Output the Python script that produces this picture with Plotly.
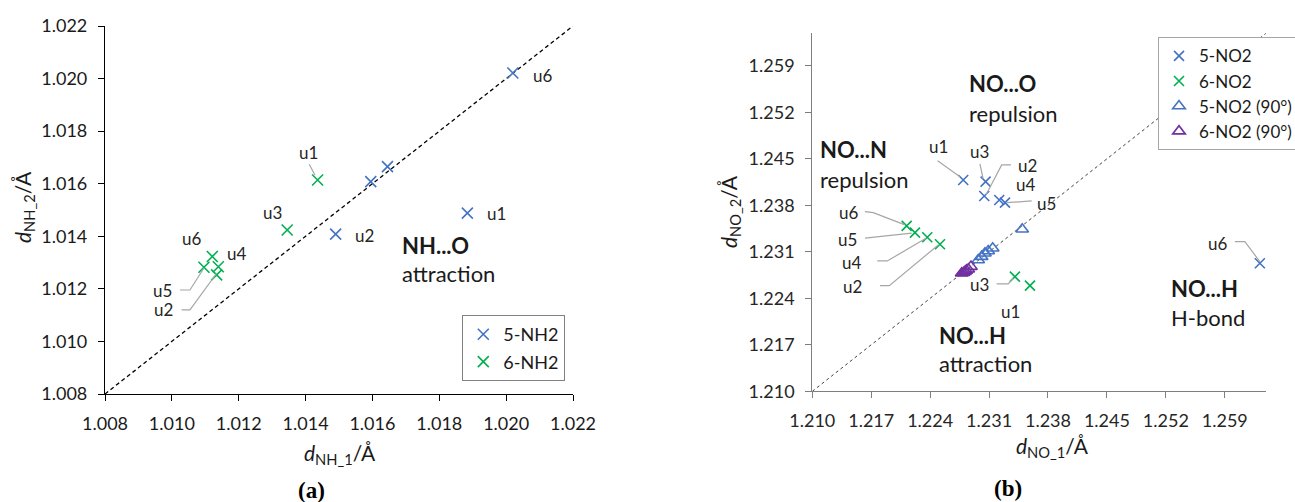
import plotly.graph_objects as go

# ---------------- data ----------------
# panel (a): N-H bond lengths
nh2_5_labels = ["u1", "u2", "", "", "u6"]
nh2_5_x = [1.01884, 1.01490, 1.01595, 1.01645, 1.02020]
nh2_5_y = [1.01488, 1.01408, 1.01608, 1.01665, 1.02021]

nh2_6_labels = ["u1", "u2", "u3", "u4", "u5", "u6"]
nh2_6_x = [1.01436, 1.01134, 1.01345, 1.01121, 1.01096, 1.01139]
nh2_6_y = [1.01614, 1.01253, 1.01424, 1.01323, 1.01282, 1.01284]

# panel (b): N-O bond lengths
no2_5_labels = ["u1", "u2", "u3", "u4", "u5", "u6"]
no2_5_x = [1.22793, 1.23043, 1.23059, 1.23221, 1.23289, 1.26317]
no2_5_y = [1.24182, 1.23941, 1.24157, 1.23881, 1.23840, 1.22928]

no2_6_labels = ["u1", "u2", "u3", "u4", "u5", "u6"]
no2_6_x = [1.23586, 1.22517, 1.23407, 1.22366, 1.22220, 1.22121]
no2_6_y = [1.22590, 1.23214, 1.22726, 1.23319, 1.23389, 1.23490]

no2_5_90_x = [1.23494, 1.23143, 1.23090, 1.23051, 1.23012, 1.22971]
no2_5_90_y = [1.23440, 1.23154, 1.23113, 1.23078, 1.23027, 1.22977]

no2_6_90_x = [1.22774, 1.22795, 1.22814, 1.22830, 1.22853, 1.22885]
no2_6_90_y = [1.22777, 1.22785, 1.22801, 1.22820, 1.22837, 1.22877]

# axes
a_range = [1.008, 1.022]
a_ticks = [1.008, 1.010, 1.012, 1.014, 1.016, 1.018, 1.020, 1.022]
b_range = [1.210, 1.2639]
b_ticks = [1.210, 1.217, 1.224, 1.231, 1.238, 1.245, 1.252, 1.259]

# ---------------- styles / label placement (pixel offsets) ----------------
W, H = 1295, 502
BLUE, GREEN, PURPLE = "#4472C4", "#00B050", "#7030A0"
FONT = "Lato"
LEADER = "#A6A6A6"

# (dx, dy) screen-pixel offset of label centre from point; leader = list of screen offsets
A5_POS = {
    "u1": ((29, 0), None),
    "u2": ((29, 1), None),
    "u6": ((30, 2), None),
}
A6_POS = {
    "u1": ((-9, -28), [(-8.4, -15.7), (-2.7, -5)]),
    "u3": ((-15, -17), None),
    "u4": ((24, -3), None),
    "u5": ((-41, 23), [(-24, 22.7), (-14, 22.7), (0, 0.7)]),
    "u6": ((-27, -28), None),
    "u2": ((-53, 35), [(-35, 35), (-26.7, 35), (0, -1.7)]),
}
B5_POS = {
    "u1": ((-25, -33), [(-25.6, -19.3), (-3.3, -3.3)]),
    "u3": ((-6, -30), [(-5.7, -17.7), (-2.4, -2.4)]),
    "u2": ((43, -30), [(26.7, -31), (17.4, -31), (1.7, -1)]),
    "u4": ((26, -15), None),
    "u5": ((42, 1), [(26.7, -1.7), (1.7, 0)]),
    "u6": ((-42, -20), [(-25, -21.6), (-15, -21.6), (0, -1.6)]),
}
B6_POS = {
    "u6": ((-58, -13), [(-41.7, -14.3), (-33.4, -13.3), (-1.7, -1)]),
    "u5": ((-67, 7), [(-50, 5.6), (-3.3, 0.6)]),
    "u4": ((-76, 25), [(-50, 23.7), (-40, 23.7), (-1.3, 1)]),
    "u2": ((-87, 42), [(-60, 41.4), (-50.7, 41.4), (-1.7, 0.7)]),
    "u3": ((-35, 8), [(-18.3, 7.3), (-6.7, 7.3), (-1.7, 1.6)]),
    "u1": ((-19, 26), None),
}

fig = go.Figure()

def diag(rng, xa, ya, color, dash, width):
    fig.add_trace(go.Scatter(x=rng, y=rng, mode="lines", xaxis=xa, yaxis=ya,
                             line=dict(color=color, dash=dash, width=width),
                             showlegend=False, hoverinfo="skip"))

diag(a_range, "x", "y", "#000000", "4px,3px", 1.3)
diag(b_range, "x2", "y2", "#404040", "3px,3px", 1)

def pts(x, y, name, sym, color, size, xa, ya, legend, group):
    fig.add_trace(go.Scatter(x=x, y=y, mode="markers", name=name, xaxis=xa, yaxis=ya,
                             legend=legend, legendgroup=group,
                             marker=dict(symbol=sym, size=size, color=color,
                                         line=dict(color=color, width=1.6))))

pts(nh2_5_x, nh2_5_y, "5-NH2", "x-thin", BLUE, 11, "x", "y", "legend", "a1")
pts(nh2_6_x, nh2_6_y, "6-NH2", "x-thin", GREEN, 11, "x", "y", "legend", "a2")
pts(no2_5_x, no2_5_y, "5-NO2", "x-thin", BLUE, 10, "x2", "y2", "legend2", "b1")
pts(no2_6_x, no2_6_y, "6-NO2", "x-thin", GREEN, 10, "x2", "y2", "legend2", "b2")
pts(no2_5_90_x, no2_5_90_y, "5-NO2 (90°)", "triangle-up-open", BLUE, 11, "x2", "y2", "legend2", "b3")
pts(no2_6_90_x, no2_6_90_y, "6-NO2 (90°)", "triangle-up-open", PURPLE, 11, "x2", "y2", "legend2", "b4")

annotations = []
shapes = []

def point_labels(xs, ys, labels, pos, xref, yref):
    for x, y, lab in zip(xs, ys, labels):
        if not lab or lab not in pos:
            continue
        (dx, dy), leader = pos[lab]
        annotations.append(dict(x=x, y=y, xref=xref, yref=yref, text=lab, showarrow=False,
                                xshift=dx, yshift=-dy, xanchor="center", yanchor="middle",
                                font=dict(family=FONT, size=17, color="#262626")))
        if leader:
            path = "M " + " L ".join(f"{px},{-py}" for px, py in leader)
            shapes.append(dict(type="path", xref=xref, yref=yref, xsizemode="pixel",
                               ysizemode="pixel", xanchor=x, yanchor=y, path=path,
                               line=dict(color=LEADER, width=1.2)))

point_labels(nh2_5_x, nh2_5_y, nh2_5_labels, A5_POS, "x", "y")
point_labels(nh2_6_x, nh2_6_y, nh2_6_labels, A6_POS, "x", "y")
point_labels(no2_5_x, no2_5_y, no2_5_labels, B5_POS, "x2", "y2")
point_labels(no2_6_x, no2_6_y, no2_6_labels, B6_POS, "x2", "y2")

def ptext(px, py, text, size=22, bold=False, anchor="left", family=FONT, angle=0, color="#1a1a1a"):
    t = f"<b>{text}</b>" if bold else text
    annotations.append(dict(x=px / W, y=1 - py / H, xref="paper", yref="paper", text=t,
                            showarrow=False, xanchor=anchor, yanchor="middle", textangle=angle,
                            font=dict(family=family, size=size, color=color)))

ptext(400, 245, "NH...O", bold=True)
ptext(400, 273, "attraction")
ptext(967, 84, "NO...O", bold=True)
ptext(967, 113, "repulsion")
ptext(818, 150, "NO...N", bold=True)
ptext(818, 179, "repulsion")
ptext(937, 335, "NO...H", bold=True)
ptext(937, 363, "attraction")
ptext(1169, 288, "NO...H", bold=True)
ptext(1169, 317, "H-bond")

ptext(340, 454, "<i>d</i><sub>NH_1</sub>/Å", size=21, anchor="center")
ptext(24, 207, "<i>d</i><sub>NH_2</sub>/Å", size=21, anchor="center", angle=-90)
ptext(1052, 447, "<i>d</i><sub>NO_1</sub>/Å", size=21, anchor="center")
ptext(730, 212, "<i>d</i><sub>NO_2</sub>/Å", size=21, anchor="center", angle=-90)
ptext(311, 490, "(a)", size=23, bold=True, anchor="center", family="Liberation Serif", color="#000")
ptext(1008, 488, "(b)", size=23, bold=True, anchor="center", family="Liberation Serif", color="#000")

def axis(domain, rng, ticks, color, anchor, tickcolor):
    return dict(domain=domain, range=rng, tickvals=ticks, tickformat=".3f", showgrid=False,
                zeroline=False, showline=True, linecolor=color, linewidth=1.2, ticks="outside",
                ticklen=6, tickcolor=color, tickwidth=1.2, anchor=anchor,
                tickfont=dict(family=FONT, size=18, color=tickcolor), ticklabelstandoff=7)

ax_a_x = axis([105 / W, 573 / W], a_range, a_ticks, "#000000", "y", "#1a1a1a")
ax_a_y = axis([1 - 394 / H, 1 - 26 / H], a_range, a_ticks, "#000000", "x", "#1a1a1a")
ax_b_x = axis([812.3 / W, 1266 / W], b_range, b_ticks, "#7f7f7f", "y2", "#262626")
ax_b_y = axis([1 - 391.3 / H, 1 - 33.3 / H], b_range, b_ticks, "#7f7f7f", "x2", "#262626")

fig.update_layout(
    width=W, height=H,
    margin=dict(l=0, r=0, t=0, b=0, autoexpand=False),
    paper_bgcolor="white", plot_bgcolor="white",
    xaxis=ax_a_x, yaxis=ax_a_y, xaxis2=ax_b_x, yaxis2=ax_b_y,
    showlegend=True,
    legend=dict(x=462.3 / W, y=1 - 315 / H, xanchor="left", yanchor="top",
                bordercolor="#808080", borderwidth=1, bgcolor="white",
                font=dict(family=FONT, size=18, color="#1a1a1a"), tracegroupgap=1,
                traceorder="grouped"),
    legend2=dict(x=1158 / W, y=1 - 37.3 / H, xanchor="left", yanchor="top",
                 bordercolor="#A6A6A6", borderwidth=1, bgcolor="white",
                 font=dict(family=FONT, size=17, color="#1a1a1a"),
                 traceorder="normal"),
    annotations=annotations, shapes=shapes,
)

fig.write_html("out.html")
